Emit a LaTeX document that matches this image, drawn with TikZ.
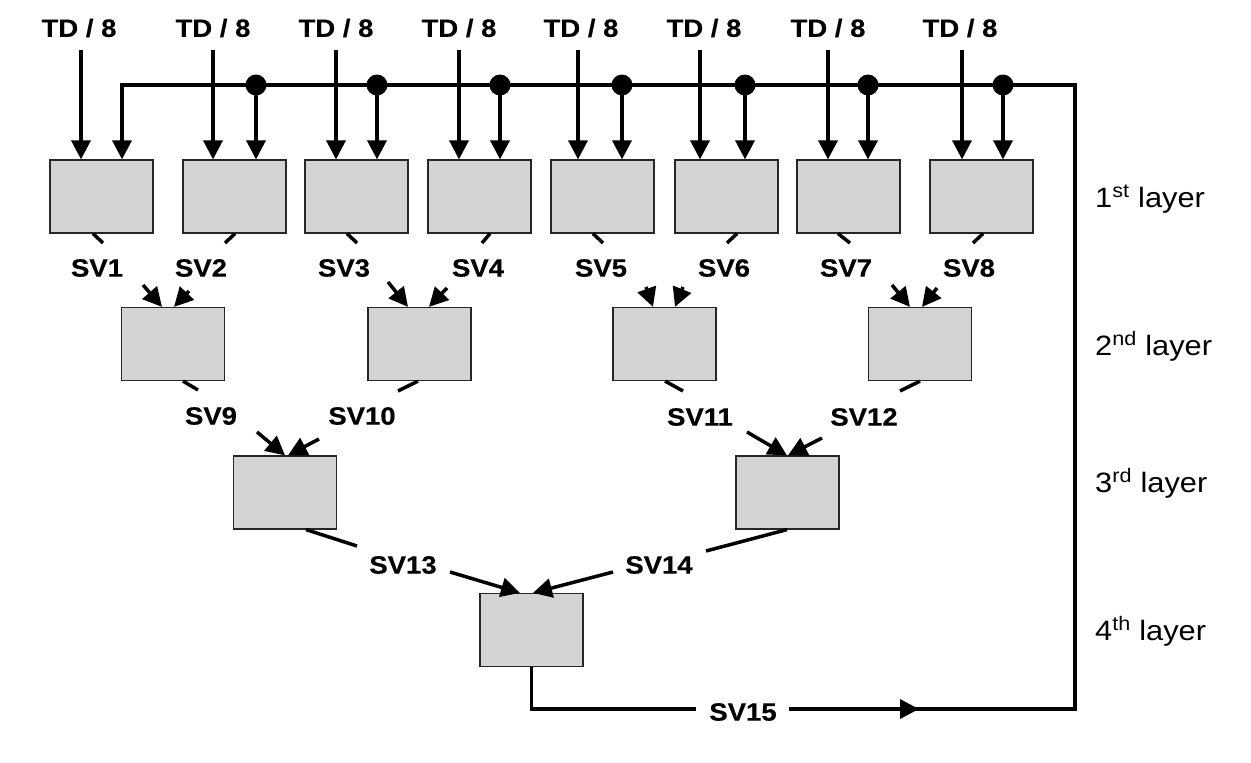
\documentclass[tikz,border=0pt]{standalone}
\usepackage{fontspec}
\setmainfont{Liberation Sans}
\newfontfamily\labfont[FakeStretch=1.1,FakeBold=0.4]{Liberation Sans Bold}
\newfontfamily\layfont[FakeStretch=1.1]{Liberation Sans}
\usetikzlibrary{arrows.meta,calc}
\definecolor{boxgray}{RGB}{212,212,212}
\begin{document}
\begin{tikzpicture}[x=1pt,y=-1pt,
  blk/.style={draw=black!85, line width=1.2pt, fill=boxgray, minimum width=103pt, minimum height=73pt, inner sep=0pt},
  wire/.style={line width=3.5pt, line join=miter},
  arr/.style={wire, -{Triangle[length=19pt,width=19pt]}},
  lab/.style={font=\fontsize{25}{30}\labfont, inner sep=0pt},
  lay/.style={font=\fontsize{28}{32}\layfont, anchor=base west, inner sep=0pt},
  jdot/.style={circle, fill=black, minimum size=21pt, inner sep=0pt}]

\useasboundingbox (0,0) rectangle (1251,763);

% layer 1 boxes
\node[blk] (b1) at (101.5,196.5) {};
\node[blk] (b2) at (234.5,196.5) {};
\node[blk] (b3) at (356.5,196.5) {};
\node[blk] (b4) at (479.5,196.5) {};
\node[blk] (b5) at (602.5,196.5) {};
\node[blk] (b6) at (726.5,196.5) {};
\node[blk] (b7) at (848.5,196.5) {};
\node[blk] (b8) at (981.5,196.5) {};
% layer 2
\node[blk] (b9)  at (173,344) {};
\node[blk] (b10) at (419.5,344) {};
\node[blk] (b11) at (664.5,344) {};
\node[blk] (b12) at (920,344) {};
% layer 3
\node[blk] (b13) at (285,492.5) {};
\node[blk] (b14) at (787.5,492.5) {};
% layer 4
\node[blk] (b15) at (531.5,630) {};

% TD labels and arrows
\node[lab] (td1) at (79,28) {TD / 8};
\node[lab] (td2) at (213,28) {TD / 8};
\node[lab] (td3) at (336,28) {TD / 8};
\node[lab] (td4) at (459,28) {TD / 8};
\node[lab] (td5) at (581,28) {TD / 8};
\node[lab] (td6) at (704,28) {TD / 8};
\node[lab] (td7) at (828,28) {TD / 8};
\node[lab] (td8) at (960,28) {TD / 8};
\draw[arr] (81,50) -- (b1.north -| 81,0);
\draw[arr] (213,50) -- (b2.north -| 213,0);
\draw[arr] (336,50) -- (b3.north -| 336,0);
\draw[arr] (459,50) -- (b4.north -| 459,0);
\draw[arr] (578,50) -- (b5.north -| 578,0);
\draw[arr] (700,50) -- (b6.north -| 700,0);
\draw[arr] (828,50) -- (b7.north -| 828,0);
\draw[arr] (962,50) -- (b8.north -| 962,0);

% feedback loop
\draw[wire] (b15.south) |- (696,709);
\node[lab] (sv15) at (743,712) {SV15};
\draw[arr] (789,709) -- (919,709);
\draw[arr] (905,709) -- (1075,709) -- (1075,85) -- (122,85) -- (b1.north -| 122,0);
\foreach \x/\b in {256/b2,377/b3,500/b4,622/b5,745/b6,868/b7,1003/b8}{
  \draw[arr] (\x,85) -- (\b.north -| \x,0);
  \node[jdot] at (\x,85) {};
}

% layer 1 -> 2
\draw[wire] (b1.south -| 93,0) -- (103,243);  \draw[arr] (143,285) -- (b9.north -| 162,0);
\draw[wire] (b2.south -| 235,0) -- (225,243); \draw[arr] (189,291) -- (b9.north -| 174,0);
\draw[wire] (b3.south -| 347,0) -- (357,243); \draw[arr] (388,282) -- (b10.north -| 408,0);
\draw[wire] (b4.south -| 490,0) -- (482,243); \draw[arr] (447,288) -- (b10.north -| 429,0);
\draw[wire] (b5.south -| 593,0) -- (603,243); \draw[arr] (646,287) -- (b11.north -| 653,0);
\draw[wire] (b6.south -| 737,0) -- (727,243); \draw[arr] (683,287) -- (b11.north -| 675,0);
\draw[wire] (b7.south -| 838,0) -- (850,243); \draw[arr] (892,285) -- (b12.north -| 910,0);
\draw[wire] (b8.south -| 983,0) -- (973,243); \draw[arr] (937,288) -- (b12.north -| 922,0);
\node[lab] (sv1) at (97,268) {SV1};
\node[lab] (sv2) at (201,268) {SV2};
\node[lab] (sv3) at (344,268) {SV3};
\node[lab] (sv4) at (478,268) {SV4};
\node[lab] (sv5) at (601,268) {SV5};
\node[lab] (sv6) at (724,268) {SV6};
\node[lab] (sv7) at (846,268) {SV7};
\node[lab] (sv8) at (969,268) {SV8};

% layer 2 -> 3
\draw[wire] (b9.south -| 183,0) -- (198,390);  \draw[arr] (257,432) -- (b13.north -| 285,0);
\draw[wire] (b10.south -| 418,0) -- (398,391); \draw[arr] (319,439) -- (b13.north -| 288,0);
\draw[wire] (b11.south -| 665,0) -- (683,391); \draw[arr] (747,432) -- (b14.north -| 787,0);
\draw[wire] (b12.south -| 920,0) -- (900,391); \draw[arr] (822,438) -- (b14.north -| 788,0);
\node[lab] (sv9)  at (211,416) {SV9};
\node[lab] (sv10) at (362,416) {SV10};
\node[lab] (sv11) at (700,417) {SV11};
\node[lab] (sv12) at (864,417) {SV12};

% layer 3 -> 4
\draw[wire] (b13.south -| 306,0) -- (357,546); \draw[arr] (450,572) -- (b15.north -| 520,0);
\draw[wire] (b14.south -| 787,0) -- (706,551); \draw[arr] (613,572) -- (b15.north -| 533,0);
\node[lab] (sv13) at (403,565) {SV13};
\node[lab] (sv14) at (659,565) {SV14};

% layer labels
\node[lay] (l1) at (1095,207) {1\textsuperscript{st} layer};
\node[lay] (l2) at (1095,355) {2\textsuperscript{nd} layer};
\node[lay] (l3) at (1095,492) {3\textsuperscript{rd} layer};
\node[lay] (l4) at (1095,640) {4\textsuperscript{th} layer};
\end{tikzpicture}
\end{document}
